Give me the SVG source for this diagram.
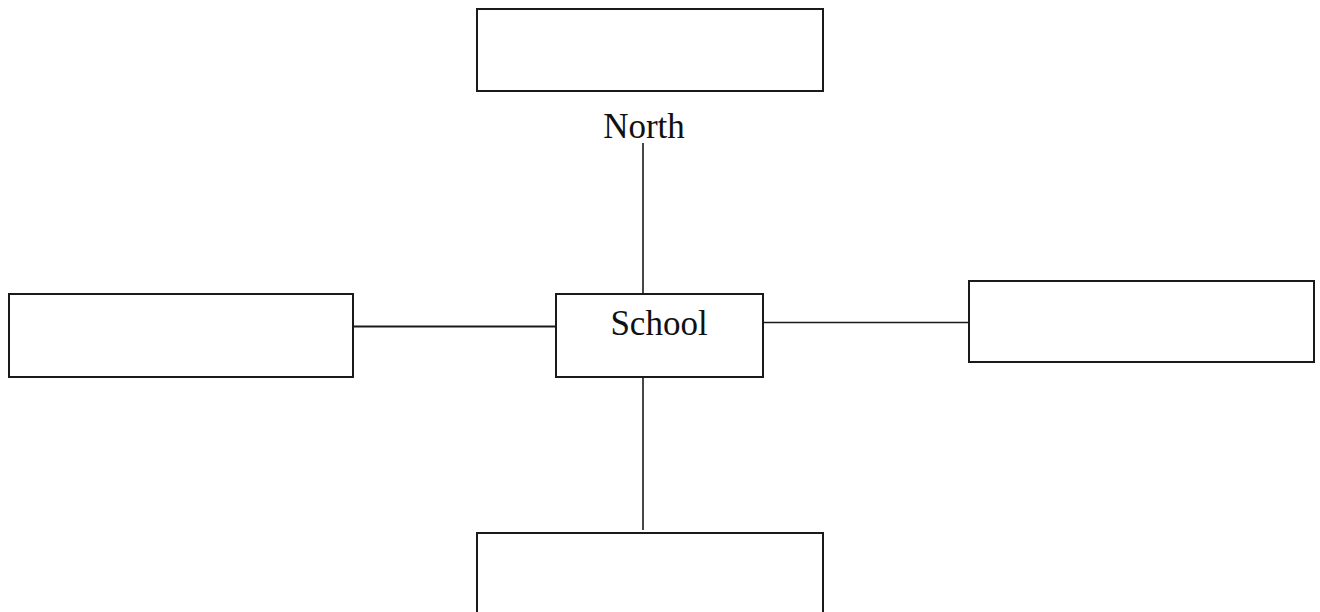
<svg xmlns="http://www.w3.org/2000/svg" width="1320" height="612" viewBox="0 0 1320 612">
<style>
.box{fill:#fff;stroke:#1a1a1a;stroke-width:2}
.conn{stroke:#1a1a1a;stroke-width:1.6;fill:none}
.lbl{font-family:"Liberation Serif","Times New Roman",serif;font-size:35px;fill:#111;text-anchor:middle}
</style>
<rect width="1320" height="612" fill="#fff"/>
<g id="connectors">
<line class="conn" x1="643" y1="143" x2="643" y2="294"/>
<line class="conn" x1="643" y1="377" x2="643" y2="530"/>
<line class="conn" x1="351" y1="326.5" x2="556" y2="326.5" style="stroke-width:2.2"/>
<line class="conn" x1="763" y1="322.5" x2="969" y2="322.5"/>
</g>
<g id="north-box"><rect class="box" x="477" y="9" width="346" height="82"/></g>
<g id="north-label"><text class="lbl" x="644" y="138">North</text></g>
<g id="school"><rect class="box" x="556" y="294" width="207" height="83"/><text class="lbl" x="659" y="335">School</text></g>
<g id="west-box"><rect class="box" x="9" y="294" width="344" height="83"/></g>
<g id="east-box"><rect class="box" x="969" y="281" width="345" height="81"/></g>
<g id="south-box"><rect class="box" x="477" y="533" width="346" height="90"/></g>
</svg>
